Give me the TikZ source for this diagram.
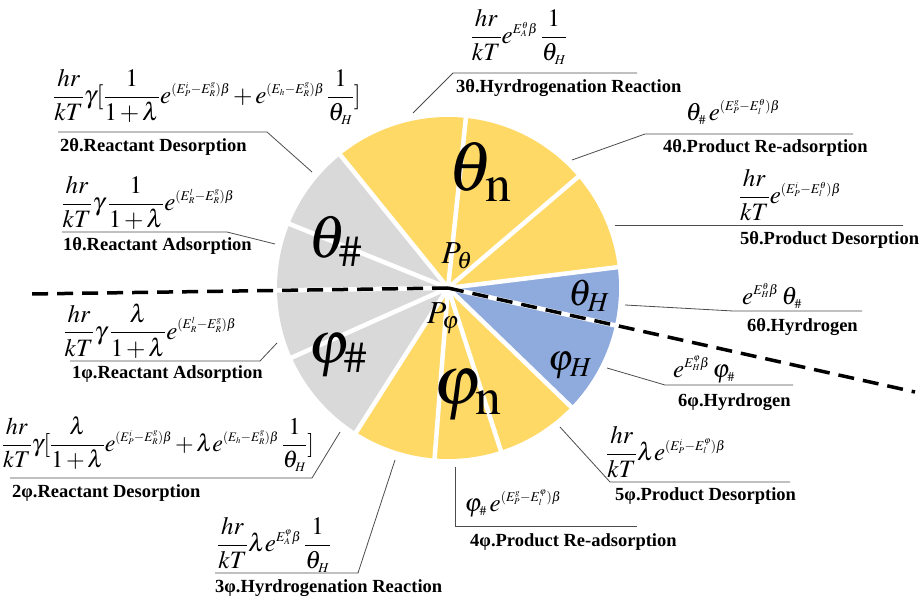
\documentclass[tikz,border=0pt]{standalone}
\usepackage{mathptmx}
\usepackage[no-math]{fontspec}
\setmainfont{Liberation Serif}
\DeclareMathSizes{25}{25}{13.5}{9}
\DeclareMathSizes{24}{24}{13}{8.7}
\definecolor{pieyellow}{HTML}{FFD966}
\definecolor{piegray}{HTML}{D9D9D9}
\definecolor{pieblue}{HTML}{8FAADC}
\tikzset{
  lead/.style={draw=black!70, line width=0.8pt},
  lbl/.style={font=\fontsize{18.5}{20}\selectfont\bfseries, anchor=west, inner sep=0pt},
  fml/.style={font=\fontsize{25}{28}\selectfont, inner sep=0pt},
  fmlsmall/.style={font=\fontsize{24}{27}\selectfont, inner sep=0pt},
  sectorgap/.style={white, line width=4.5pt},
  divider/.style={black, line width=3.5pt, dash pattern=on 16pt off 9pt},
  bigsym/.style={inner sep=0pt, font=\fontsize{#1}{#1}\selectfont},
}
\begin{document}
\medmuskip=2mu plus 1mu minus 1mu
\begin{tikzpicture}[x=1pt,y=1pt]
\useasboundingbox (0,0) rectangle (920,597);
% ---- pie ----
\coordinate (C) at (448,309);
\foreach \a/\b/\c in {84/129/pieyellow, 40.5/84/pieyellow, 7/40.5/pieyellow,
  -12.6/7/pieblue, -44/-12.6/pieblue, -72/-44/pieyellow, -94.5/-72/pieyellow,
  -122.5/-94.5/pieyellow, -156/-122.5/piegray, -179.2/-156/piegray,
  158/180.8/piegray, 129/158/piegray}
  \fill[\c] (C) -- ++(\a:171) arc[start angle=\a, end angle=\b, radius=171] -- cycle;
\foreach \a in {129,84,40.5,7,-12.6,-44,-72,-94.5,-122.5,-156,180.8,158}
  \draw[sectorgap] (C) -- ++(\a:176);
\coordinate (DL) at (30,303);
\coordinate (DR) at (915,205);
\draw[divider] (C) -- (DL);
\draw[divider] (C) -- (DR);

\begin{scope}[shift={(0,597)}, yscale=-1]
% ---- sector symbols ----
\node[bigsym=60] (st1) at (335,241) {$\theta_{\#}$};
\node[bigsym=60] (sp1) at (338,355) {$\varphi_{\#}$};
\node[bigsym=70] (stn) at (480,172) {$\theta_{\mathrm{n}}$};
\node[bigsym=70] (spn) at (468,395) {$\varphi_{\mathrm{n}}$};
\node[bigsym=37] (sth) at (589,296) {$\theta_{H}$};
\node[bigsym=37] (sph) at (570,366) {$\varphi_{H}$};
\node[bigsym=32] (pt) at (457,256) {$P_{\theta}$};
\node[bigsym=32] (pp) at (443,318) {$P_{\varphi}$};

% ---- 2theta ----
\node[fml] (f2t) at (207,97) {$\displaystyle \frac{hr}{kT}\gamma[\frac{1}{1+\lambda}e^{(E_P^i-E_R^g)\beta}+e^{(E_h-E_R^g)\beta}\,\frac{1}{\theta_H}]$};
\coordinate (a2t) at (58,132); \coordinate (b2t) at (267,132); \coordinate (p2t) at (312,172);
\draw[lead] (a2t) -- (b2t) -- (p2t);
\node[lbl] (l2t) at (60,147) {2θ.Reactant Desorption};

% ---- 1theta ----
\node[fml] (f1t) at (148,203) {$\displaystyle \frac{hr}{kT}\gamma\,\frac{1}{1+\lambda}e^{(E_R^l-E_R^g)\beta}$};
\coordinate (a1t) at (62,232); \coordinate (b1t) at (227,232); \coordinate (p1t) at (275,244);
\draw[lead] (a1t) -- (b1t) -- (p1t);
\node[lbl] (l1t) at (63,246) {1θ.Reactant Adsorption};

% ---- 1phi ----
\node[fml] (f1p) at (150,331) {$\displaystyle \frac{hr}{kT}\gamma\,\frac{\lambda}{1+\lambda}e^{(E_R^l-E_R^g)\beta}$};
\coordinate (a1p) at (70,361); \coordinate (b1p) at (260,361); \coordinate (p1p) at (277,343);
\draw[lead] (a1p) -- (b1p) -- (p1p);
\node[lbl] (l1p) at (72,374) {1φ.Reactant Adsorption};

% ---- 2phi ----
\node[fmlsmall] (f2p) at (158,444) {$\displaystyle \frac{hr}{kT}\gamma[\frac{\lambda}{1+\lambda}e^{(E_P^i-E_R^g)\beta}+\lambda e^{(E_h-E_R^g)\beta}\,\frac{1}{\theta_H}]$};
\coordinate (a2p) at (10,478); \coordinate (b2p) at (312,478); \coordinate (p2p) at (340,432);
\draw[lead] (a2p) -- (b2p) -- (p2p);
\node[lbl] (l2p) at (12,493) {2φ.Reactant Desorption};

% ---- 3phi ----
\node[fml] (f3p) at (274,545) {$\displaystyle \frac{hr}{kT}\lambda e^{E_A^{\varphi}\beta}\,\frac{1}{\theta_H}$};
\coordinate (a3p) at (215,573); \coordinate (b3p) at (358,573); \coordinate (p3p) at (395,460);
\draw[lead] (a3p) -- (b3p) -- (p3p);
\node[lbl] (l3p) at (215,588) {3φ.Hyrdrogenation Reaction};

% ---- 3theta ----
\node[fml] (f3t) at (519,37) {$\displaystyle \frac{hr}{kT}e^{E_A^{\theta}\beta}\,\frac{1}{\theta_H}$};
\coordinate (a3t) at (637,73); \coordinate (b3t) at (453,73); \coordinate (p3t) at (413,113);
\draw[lead] (a3t) -- (b3t) -- (p3t);
\node[lbl] (l3t) at (456,88) {3θ.Hyrdrogenation Reaction};

% ---- 4theta ----
\node[fml] (f4t) at (733,112) {$\displaystyle \theta_{\#}\,e^{(E_P^g-E_l^{\theta})\beta}$};
\coordinate (a4t) at (853,134); \coordinate (b4t) at (645,134); \coordinate (p4t) at (572,160);
\draw[lead] (a4t) -- (b4t) -- (p4t);
\node[lbl] (l4t) at (663,148) {4θ.Product Re-adsorption};

% ---- 5theta ----
\node[fml] (f5t) at (790,195) {$\displaystyle \frac{hr}{kT}e^{(E_P^i-E_l^{\theta})\beta}$};
\coordinate (a5t) at (903,225); \coordinate (p5t) at (615,225);
\draw[lead] (a5t) -- (p5t);
\node[lbl] (l5t) at (740,240) {5θ.Product Desorption};

% ---- 6theta ----
\node[fml] (f6t) at (772,296) {$\displaystyle e^{E_H^{\theta}\beta}\,\theta_{\#}$};
\coordinate (a6t) at (862,311); \coordinate (b6t) at (733,311); \coordinate (p6t) at (625,305);
\draw[lead] (a6t) -- (b6t) -- (p6t);
\node[lbl] (l6t) at (747,327) {6θ.Hyrdrogen};

% ---- 6phi ----
\node[fml] (f6p) at (704,370) {$\displaystyle e^{E_H^{\varphi}\beta}\,\varphi_{\#}$};
\coordinate (a6p) at (793,385); \coordinate (b6p) at (665,385); \coordinate (p6p) at (607,368);
\draw[lead] (a6p) -- (b6p) -- (p6p);
\node[lbl] (l6p) at (678,402) {6φ.Hyrdrogen};

% ---- 5phi ----
\node[fml] (f5p) at (666,452) {$\displaystyle \frac{hr}{kT}\lambda e^{(E_P^i-E_l^{\varphi})\beta}$};
\coordinate (a5p) at (790,482); \coordinate (b5p) at (610,482); \coordinate (p5p) at (560,427);
\draw[lead] (a5p) -- (b5p) -- (p5p);
\node[lbl] (l5p) at (615,496) {5φ.Product Desorption};

% ---- 4phi ----
\node[fml] (f4p) at (513,504) {$\displaystyle \varphi_{\#}\,e^{(E_P^g-E_l^{\varphi})\beta}$};
\coordinate (a4p) at (637,526); \coordinate (b4p) at (455,526); \coordinate (p4p) at (455,467);
\draw[lead] (a4p) -- (b4p) -- (p4p);
\node[lbl] (l4p) at (470,542) {4φ.Product Re-adsorption};
\end{scope}
\end{tikzpicture}
\end{document}
